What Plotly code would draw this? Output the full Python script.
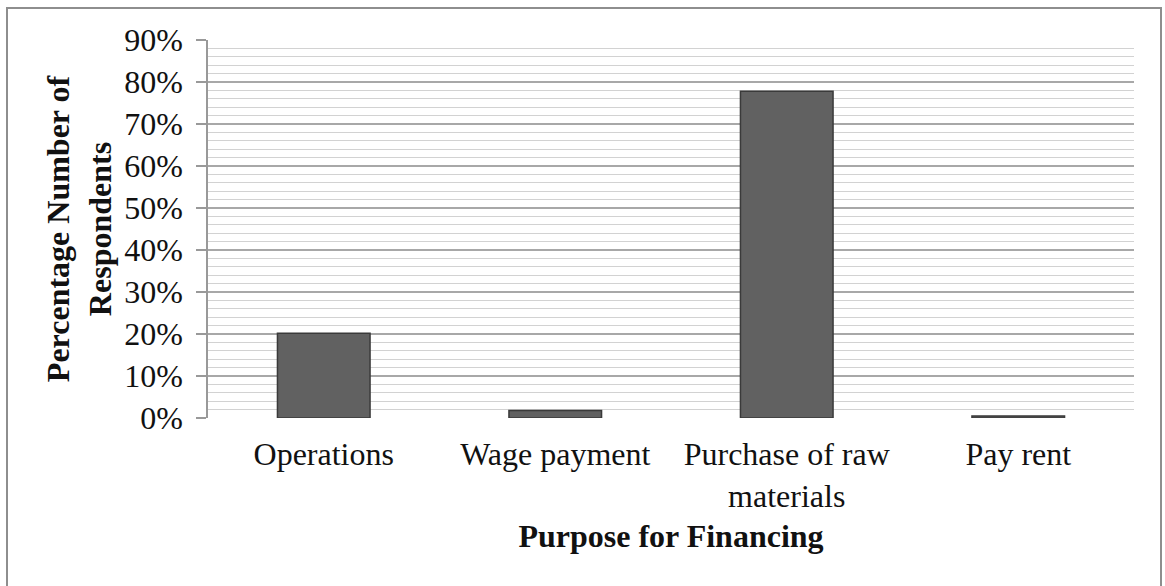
import plotly.graph_objects as go

categories = ["Operations", "Wage payment", "Purchase of raw<br>materials", "Pay rent"]
values = [0.202, 0.018, 0.778, 0.005]
y_tick_vals = [0, 0.1, 0.2, 0.3, 0.4, 0.5, 0.6, 0.7, 0.8, 0.9]
y_tick_text = ["0%", "10%", "20%", "30%", "40%", "50%", "60%", "70%", "80%", "90%"]

W, H = 1165, 586
L, R, T, B = 208, 31, 40, 168
pw, ph = W - L - R, H - T - B

serif = "Liberation Serif, Times New Roman, serif"
FS = 32

fig = go.Figure()
fig.add_trace(go.Bar(
    x=categories, y=values,
    marker=dict(color="#616161", line=dict(color="#3a3a3a", width=1.5)),
    width=0.4,
))

def px_to_paper_x(p):
    return (p - L) / pw

def px_to_paper_y(p):
    return (H - B - p) / ph

fig.update_layout(
    width=W, height=H,
    margin=dict(l=L, r=R, t=T, b=B),
    paper_bgcolor="white", plot_bgcolor="white",
    showlegend=False,
    font=dict(family=serif, color="#111111", size=FS),
    xaxis=dict(
        showline=False, ticks="", showgrid=False,
        ticklabelstandoff=14,
        tickfont=dict(family=serif, size=FS, color="#111111"),
        title=dict(text="<b>Purpose for Financing</b>", font=dict(family=serif, size=FS, color="#111111"), standoff=12),
    ),
    yaxis=dict(
        range=[0, 0.9],
        tickvals=y_tick_vals, ticktext=y_tick_text,
        ticks="outside", ticklen=10, tickwidth=1.5, tickcolor="#999999",
        showline=True, linecolor="#999999", linewidth=1.5,
        showgrid=True, gridcolor="#a8a8a8", gridwidth=1.5,
        zeroline=False,
        ticklabelstandoff=7,
        tickfont=dict(family=serif, size=FS, color="#111111"),
        minor=dict(dtick=0.02, showgrid=True, gridcolor="#d2d2d2", gridwidth=1.2, ticks=""),
        title=dict(text="<b>Percentage Number of<br>Respondents</b>", font=dict(family=serif, size=FS, color="#111111"), standoff=3),
    ),
    shapes=[dict(
        type="rect", xref="paper", yref="paper",
        x0=px_to_paper_x(7), x1=px_to_paper_x(1161),
        y0=px_to_paper_y(620), y1=px_to_paper_y(8),
        line=dict(color="#8e8e8e", width=2), fillcolor="rgba(0,0,0,0)", layer="below",
    )],
)

fig.write_html("out.html", config={"displayModeBar": False},
               post_script="document.body.style.margin='0';document.body.style.overflow='hidden';")
